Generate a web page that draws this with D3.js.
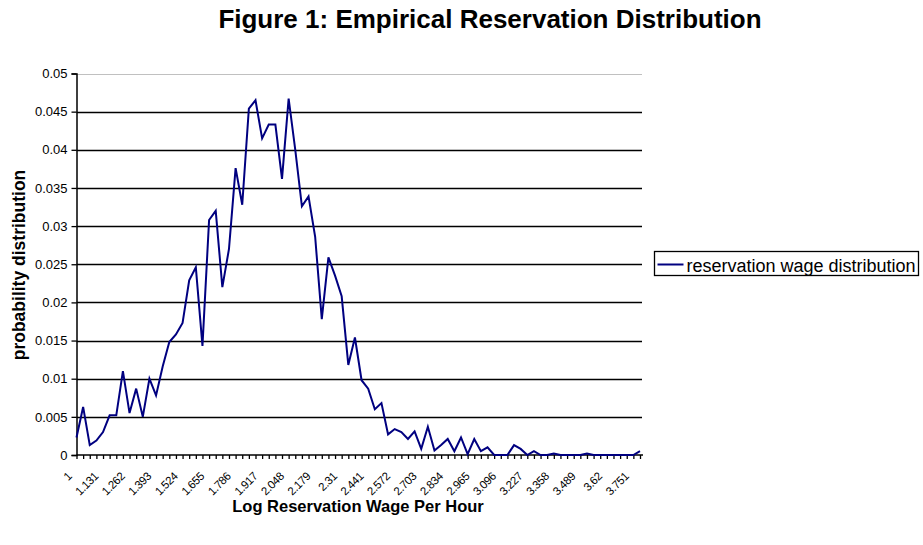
<!DOCTYPE html>
<html>
<head>
<meta charset="utf-8">
<script src="https://cdn.jsdelivr.net/npm/d3@7"></script>
<style>
  body { margin: 0; background: #fff; }
  text { font-family: "Liberation Sans", Arial, sans-serif; }
</style>
</head>
<body>
<svg id="chart" width="923" height="545"></svg>
<script>
// log wage categories: 86 bins, label every 4th (step 0.131)
const catStart = 1, catStep = 0.03275, nCats = 86;
const categories = d3.range(nCats).map(i => +(catStart + i * catStep).toFixed(5));

// probability per bin
const probs = [
  0.0023, 0.0063, 0.0013, 0.0019, 0.0030, 0.0052, 0.0052, 0.0110, 0.0055, 0.0087,
  0.0050, 0.0100, 0.0078, 0.0116, 0.0148, 0.0158, 0.0173, 0.0229, 0.0246, 0.0143,
  0.0308, 0.0320, 0.0220, 0.0270, 0.0376, 0.0328, 0.0454, 0.0465, 0.0415, 0.0433,
  0.0433, 0.0362, 0.0467, 0.0400, 0.0326, 0.0339, 0.0286, 0.0178, 0.0259, 0.0235,
  0.0208, 0.0118, 0.0154, 0.0098, 0.0087, 0.0060, 0.0068, 0.0027, 0.0034, 0.0030,
  0.0021, 0.0031, 0.0008, 0.0037, 0.0006, 0.0013, 0.0021, 0.0005, 0.0023, 0.0001,
  0.0021, 0.0005, 0.0010, 0.0000, 0.0000, 0.0000, 0.0013, 0.0008, 0.0000, 0.0005,
  0.0000, 0.0000, 0.0002, 0.0000, 0.0000, 0.0000, 0.0000, 0.0002, 0.0000, 0.0000,
  0.0000, 0.0000, 0.0000, 0.0000, 0.0000, 0.0005
];

const yTicks = [0, 0.005, 0.01, 0.015, 0.02, 0.025, 0.03, 0.035, 0.04, 0.045, 0.05];
const labelEvery = 4;

const title = "Figure 1: Empirical Reservation Distribution";
const xTitle = "Log Reservation Wage Per Hour";
const yTitle = "probability distribution";
const seriesName = "reservation wage distribution";

const svg = d3.select("#chart");
const m = {left: 76.5, right: 640, top: 73.5, bottom: 455};

const x = d3.scaleLinear().domain([0, nCats - 1]).range([m.left, m.right]);
const y = d3.scaleLinear().domain([0, 0.05]).range([m.bottom, m.top]);

// title
svg.append("text")
  .attr("x", 490).attr("y", 28)
  .attr("text-anchor", "middle")
  .attr("font-size", 26).attr("font-weight", "bold")
  .text(title);

// gridlines
svg.append("g")
  .selectAll("line")
  .data(yTicks.filter(d => d > 0))
  .join("line")
  .attr("x1", m.left).attr("x2", m.right + 2)
  .attr("y1", d => Math.round(y(d)) + 0.5).attr("y2", d => Math.round(y(d)) + 0.5)
  .attr("stroke", d => d === 0.05 ? "#c0c0c0" : "#000")
  .attr("stroke-width", d => d === 0.05 ? 1 : 1.3);

// y axis
const yAxis = d3.axisLeft(y)
  .tickValues(yTicks)
  .tickSize(5)
  .tickPadding(4)
  .tickFormat(d => d === 0 ? "0" : String(+d.toFixed(3)));
const gy = svg.append("g").attr("transform", `translate(${m.left},0)`).call(yAxis);
gy.select(".domain").attr("stroke", "#000").attr("stroke-width", 1.5);
gy.selectAll(".tick line").attr("stroke", "#000").attr("stroke-width", 1.3);
gy.selectAll(".tick text").attr("font-size", 13).attr("font-family", "Liberation Sans, Arial, sans-serif").attr("fill", "#000");

// x axis with a tick per category
const xAxis = d3.axisBottom(x)
  .tickValues(d3.range(nCats))
  .tickSize(4)
  .tickFormat("");
const gx = svg.append("g").attr("transform", `translate(0,${m.bottom})`).call(xAxis);
gx.select(".domain").attr("stroke", "#000").attr("stroke-width", 1.5)
  .attr("d", `M${m.left},0H${m.right + 3}`);
gx.selectAll(".tick line").attr("stroke", "#000").attr("stroke-width", 1.3);

// rotated category labels
svg.append("g")
  .selectAll("text")
  .data(categories.filter((d, i) => i % labelEvery === 0))
  .join("text")
  .attr("transform", (d, i) => `translate(${x(i * labelEvery) - 4},${m.bottom + 22}) rotate(-45)`)
  .attr("text-anchor", "end")
  .attr("font-size", 11.5)
  .attr("letter-spacing", -0.4)
  .text(d => String(+d.toFixed(3)));

// the series
const line = d3.line()
  .x((d, i) => x(i))
  .y(d => y(d));
svg.append("path")
  .datum(probs)
  .attr("fill", "none")
  .attr("stroke", "#000080")
  .attr("stroke-width", 2)
  .attr("stroke-linejoin", "miter")
  .attr("d", line);

// axis titles
svg.append("text")
  .attr("x", 358).attr("y", 512)
  .attr("text-anchor", "middle")
  .attr("font-size", 16.5).attr("font-weight", "bold")
  .text(xTitle);
svg.append("text")
  .attr("transform", "translate(24.5,265) rotate(-90)")
  .attr("text-anchor", "middle")
  .attr("font-size", 17.5).attr("font-weight", "bold")
  .text(yTitle);

// legend
const lg = svg.append("g").attr("transform", "translate(654.5,251.5)");
lg.append("rect")
  .attr("width", 264).attr("height", 24)
  .attr("fill", "#fff").attr("stroke", "#000").attr("stroke-width", 1.3);
lg.append("line")
  .attr("x1", 3).attr("x2", 29).attr("y1", 13).attr("y2", 13)
  .attr("stroke", "#000080").attr("stroke-width", 2);
lg.append("text")
  .attr("x", 32).attr("y", 20)
  .attr("font-size", 18)
  .text(seriesName);
</script>
</body>
</html>
